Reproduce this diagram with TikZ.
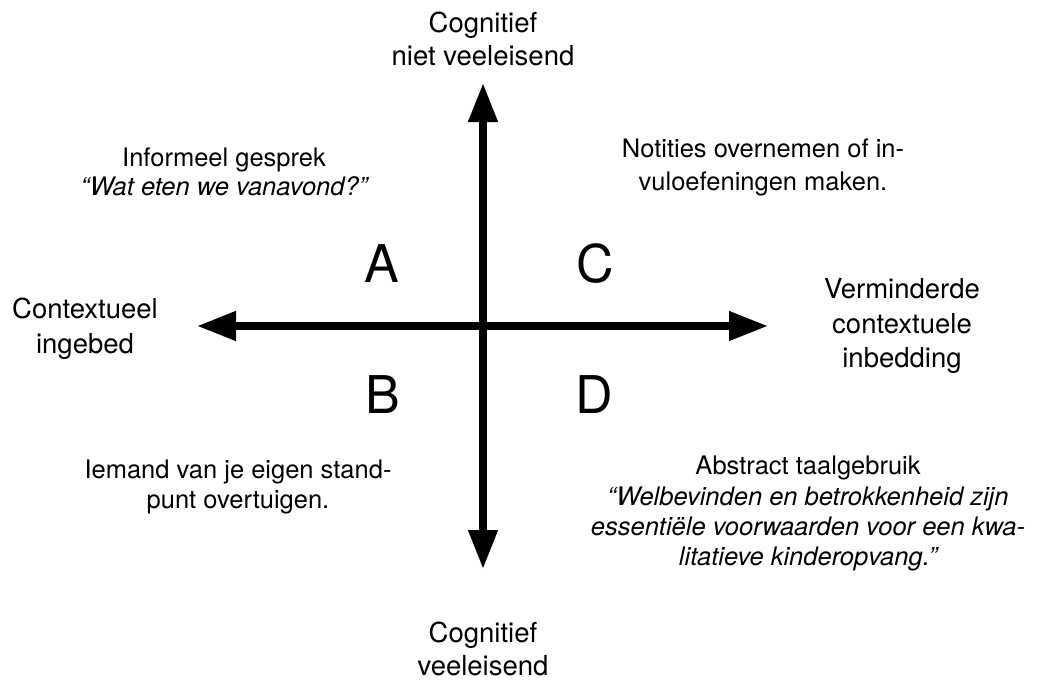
\documentclass[tikz,border=0pt]{standalone}
\usepackage{fontspec}
\setmainfont{TeX Gyre Heros}
\usetikzlibrary{arrows.meta}
\begin{document}
\begin{tikzpicture}[x=1pt,y=-1pt,
  axis/.style={line width=7.5pt,{Triangle[length=39pt,width=28pt]}-{Triangle[length=39pt,width=28pt]}},
  axlabel/.style={anchor=base,inner sep=0pt,font=\fontsize{27.5}{33}\selectfont},
  qtext/.style={anchor=base,inner sep=0pt,font=\fontsize{25.5}{30}\selectfont},
  qitext/.style={qtext,font=\fontsize{25.5}{30}\selectfont\itshape},
  letter/.style={anchor=base,inner sep=0pt,font=\fontsize{52}{60}\selectfont}]
\useasboundingbox[fill=white] (0,0) rectangle (1039,680);
% axes
\coordinate (top) at (483,83);
\coordinate (bot) at (483,569);
\coordinate (lft) at (197,326);
\coordinate (rgt) at (768,326);
\draw[axis] (lft) -- (rgt);
\draw[axis] (bot) -- (top);
% axis labels
\node[axlabel] (t1) at (483,32) {Cognitief};
\node[axlabel] (t2) at (483,65) {niet veeleisend};
\node[axlabel] (b1) at (483,642) {Cognitief};
\node[axlabel] (b2) at (483,675) {veeleisend};
\node[axlabel] (l1) at (85,318) {Contextueel};
\node[axlabel] (l2) at (85,353) {ingebed};
\node[axlabel] (r1) at (902,298) {Verminderde};
\node[axlabel] (r2) at (902,333) {contextuele};
\node[axlabel] (r3) at (902,367) {inbedding};
% quadrant letters
\node[letter] (A) at (382,282) {A};
\node[letter] (B) at (383,413) {B};
\node[letter] (C) at (595,282) {C};
\node[letter] (D) at (594,413) {D};
% quadrant texts
\node[qtext] (a1) at (224,166) {Informeel gesprek};
\node[qitext] (a2) at (224,195) {“Wat eten we vanavond?”};
\node[qtext] (c1) at (763,157) {Notities overnemen of in-};
\node[qtext] (c2) at (763,190) {vuloefeningen maken.};
\node[qtext] (b1t) at (238,478) {Iemand van je eigen stand-};
\node[qtext] (b2t) at (238,508) {punt overtuigen.};
\node[qtext] (d1) at (808,474) {Abstract taalgebruik};
\node[qitext] (d2) at (808,505) {“Welbevinden en betrokkenheid zijn};
\node[qitext] (d3) at (808,535) {essentiële voorwaarden voor een kwa-};
\node[qitext] (d4) at (808,565) {litatieve kinderopvang.”};
\end{tikzpicture}
\end{document}
